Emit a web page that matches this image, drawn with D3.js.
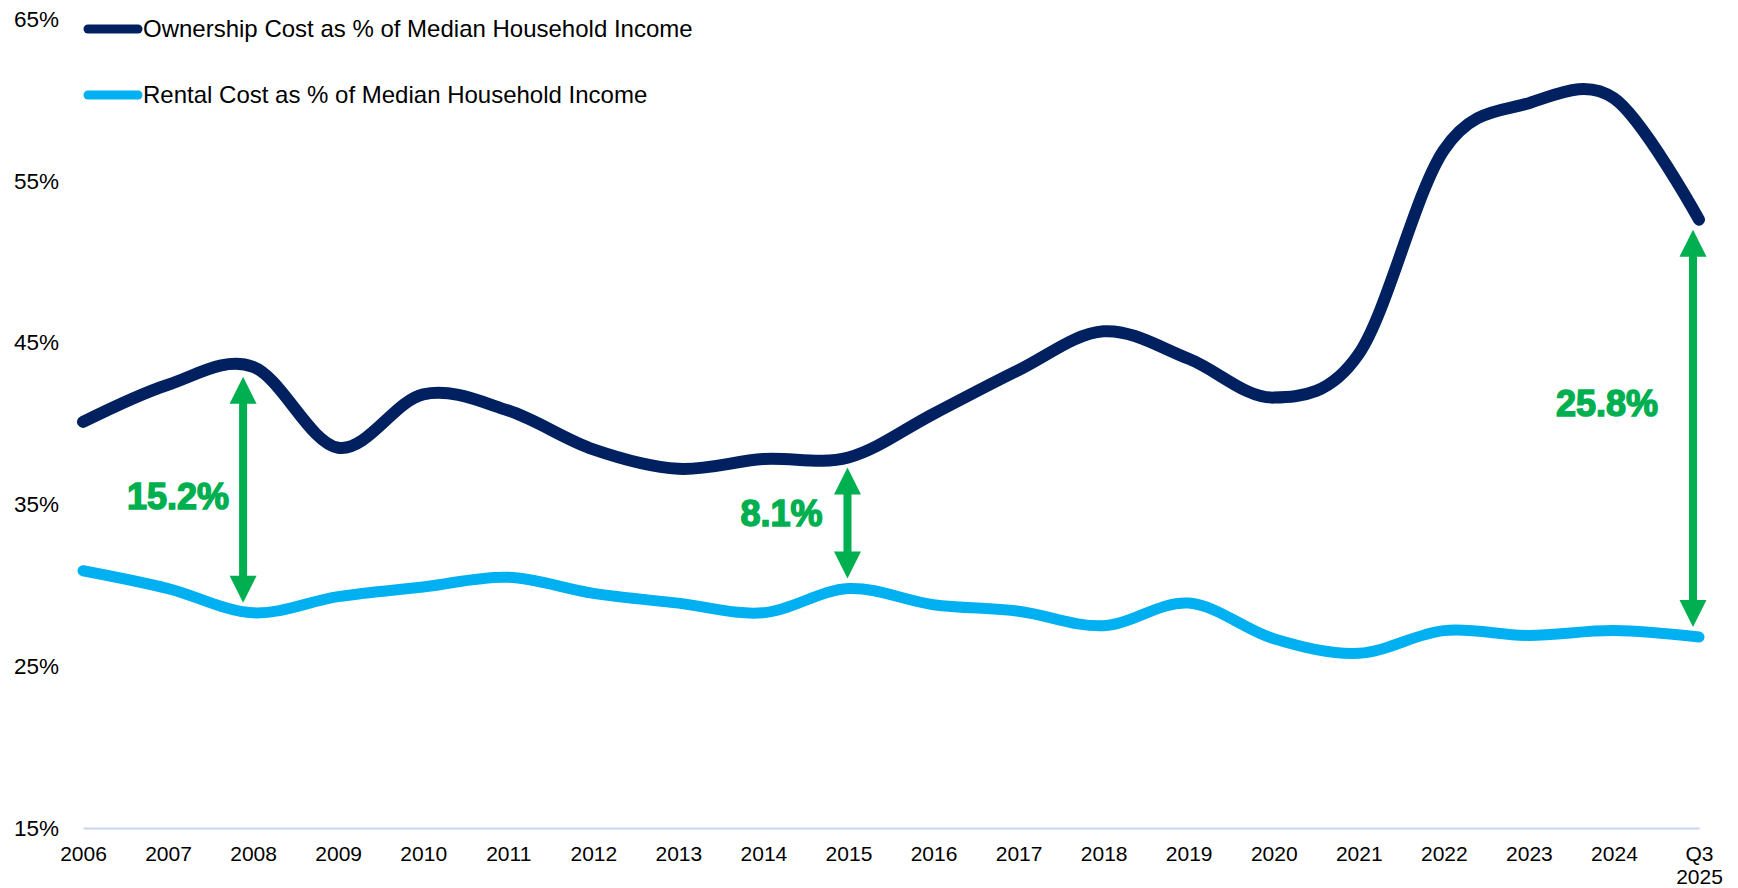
<!DOCTYPE html>
<html>
<head>
<meta charset="utf-8">
<script src="https://cdn.jsdelivr.net/npm/d3@7"></script>
<style>
  html, body { margin: 0; padding: 0; background: #fff; }
  svg { display: block; }
  text { font-family: "Liberation Sans", Arial, sans-serif; fill: #000; }
</style>
</head>
<body>
<svg id="chart" width="1738" height="888"></svg>
<script>
// Housing cost burden, share of median household income
const categories = ["2006","2007","2008","2009","2010","2011","2012","2013","2014","2015",
  "2016","2017","2018","2019","2020","2021","2022","2023","2024","Q3 2025"];
const ownershipCost = [40.1, 42.4, 43.5, 38.5, 41.8, 40.8, 38.4, 37.2, 37.8, 37.9,
  40.6, 43.3, 45.7, 44.0, 41.6, 44.3, 56.9, 59.8, 60.1, 52.6];
const rentalCost = [30.9, 29.8, 28.3, 29.3, 29.9, 30.5, 29.5, 28.9, 28.3, 29.8,
  28.8, 28.4, 27.5, 28.9, 26.7, 25.8, 27.2, 26.9, 27.2, 26.8];
const yTicks = [15, 25, 35, 45, 55, 65];
const seriesNames = ["Ownership Cost as % of Median Household Income",
  "Rental Cost as % of Median Household Income"];
// Ownership–rental gap called out at selected years
const gapYears = ["2008", "2015", "Q3 2025"];
const gapLabels = ["15.2%", "8.1%", "25.8%"];

// Layout for the gap callouts (arrow shift, label anchor offset)
const gapLayout = [
  { arrowDx: -10, labelDx: -14, labelDy: 7 },
  { arrowDx: -1,  labelDx: -25, labelDy: -10 },
  { arrowDx: -6,  labelDx: -35, labelDy: -25 }
];

const colors = { own: "#002060", rent: "#00B0F0", gap: "#00B050", axis: "#C9D3F2" };

const svg = d3.select("#chart");

const x = d3.scalePoint().domain(categories).range([83, 1699]);
const y = d3.scaleLinear().domain([15, 65]).range([828, 19]);

// Value axis labels
const yAxis = d3.axisLeft(y).tickValues(yTicks).tickSize(0).tickPadding(24)
  .tickFormat(d => d + "%");
const gy = svg.append("g").attr("transform", `translate(${x.range()[0]},0)`).call(yAxis);
gy.select(".domain").remove();
gy.selectAll("text").style("font-size", "22.5px").style("font-family", "Liberation Sans, Arial, sans-serif")
  .attr("fill", "#000");

// Category axis
const xAxis = d3.axisBottom(x).tickSize(0).tickSizeOuter(0);
const gx = svg.append("g").attr("transform", `translate(0,${y(15)})`).call(xAxis);
gx.select(".domain").attr("stroke", colors.axis).attr("stroke-width", 2);
gx.selectAll("text")
  .style("font-size", "21px").style("font-family", "Liberation Sans, Arial, sans-serif")
  .attr("fill", "#000")
  .attr("y", 33).attr("dy", null)
  .each(function(d) {
    const parts = d.split(" ");
    if (parts.length > 1) {
      const t = d3.select(this).text(null);
      parts.forEach((p, i) => {
        t.append("tspan").attr("x", 0).attr("y", 33 + i * 23).text(p);
      });
    }
  });

// Smoothed series lines
const line = d3.line()
  .x((d, i) => x(categories[i]))
  .y(d => y(d))
  .curve(d3.curveCardinal.tension(0));

svg.append("path").datum(rentalCost)
  .attr("fill", "none").attr("stroke", colors.rent).attr("stroke-width", 11)
  .attr("stroke-linecap", "round").attr("stroke-linejoin", "round")
  .attr("d", line);

svg.append("path").datum(ownershipCost)
  .attr("fill", "none").attr("stroke", colors.own).attr("stroke-width", 12)
  .attr("stroke-linecap", "round").attr("stroke-linejoin", "round")
  .attr("d", line);

// Legend
const legend = svg.append("g");
[colors.own, colors.rent].forEach((c, i) => {
  const ly = 29 + i * 66;
  legend.append("line")
    .attr("x1", 88).attr("x2", 138).attr("y1", ly).attr("y2", ly)
    .attr("stroke", c).attr("stroke-width", 9).attr("stroke-linecap", "round");
  legend.append("text")
    .attr("x", 143).attr("y", ly).attr("dy", "0.35em")
    .style("font-size", "24px")
    .text(seriesNames[i]);
});

// Double-headed gap arrows with labels
const headW = 27, headH = 27, shaftW = 8, inset = 10;
function arrowPath(cx, top, bottom) {
  const hw = headW / 2, sw = shaftW / 2;
  return [
    [cx, top], [cx + hw, top + headH], [cx + sw, top + headH],
    [cx + sw, bottom - headH], [cx + hw, bottom - headH], [cx, bottom],
    [cx - hw, bottom - headH], [cx - sw, bottom - headH], [cx - sw, top + headH],
    [cx - hw, top + headH]
  ].map((p, i) => (i ? "L" : "M") + p[0] + "," + p[1]).join("") + "Z";
}

gapYears.forEach((yr, k) => {
  const i = categories.indexOf(yr);
  const cx = x(yr) + gapLayout[k].arrowDx;
  const top = y(ownershipCost[i]) + inset;
  const bottom = y(rentalCost[i]) - inset;
  svg.append("path").attr("d", arrowPath(cx, top, bottom)).attr("fill", colors.gap);
  svg.append("text")
    .attr("x", cx + gapLayout[k].labelDx)
    .attr("y", (top + bottom) / 2 + gapLayout[k].labelDy)
    .attr("dy", "0.35em")
    .attr("text-anchor", "end")
    .style("font-size", "36px").style("font-weight", "bold")
    .style("fill", colors.gap).style("stroke", colors.gap).style("stroke-width", 1.5)
    .text(gapLabels[k]);
});
</script>
</body>
</html>
